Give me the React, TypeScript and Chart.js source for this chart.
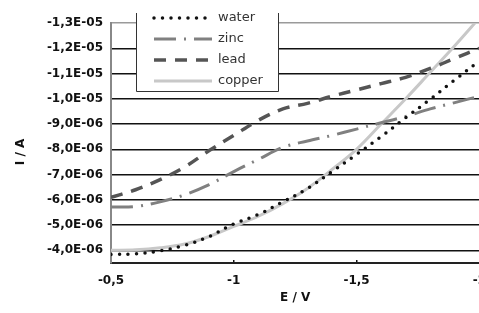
import { useEffect, useRef } from "react";
import { Chart, registerables } from "chart.js";

Chart.register(...registerables);

// Potential E / V
const potentials = [-0.5, -0.6, -0.7, -0.8, -0.9, -1.0, -1.1, -1.2, -1.3, -1.4, -1.5, -1.6, -1.7, -1.8, -1.9, -2.0];
// Current I, in units of 1E-06 A
const water = [-3.84, -3.86, -3.98, -4.2, -4.55, -5.05, -5.42, -5.92, -6.45, -7.12, -7.8, -8.5, -9.25, -9.98, -10.75, -11.5];
const zinc = [-5.72, -5.74, -5.92, -6.2, -6.6, -7.12, -7.6, -8.08, -8.33, -8.55, -8.8, -9.05, -9.3, -9.6, -9.85, -10.1];
const lead = [-6.1, -6.4, -6.8, -7.3, -7.95, -8.55, -9.15, -9.6, -9.82, -10.1, -10.35, -10.6, -10.85, -11.2, -11.6, -12.0];
const copper = [-4.0, -4.02, -4.1, -4.25, -4.55, -4.95, -5.35, -5.85, -6.45, -7.2, -8.0, -9.0, -10.0, -11.05, -12.1, -13.2];

const seriesNames = ["water", "zinc", "lead", "copper"];
const xTickValues = [-0.5, -1, -1.5, -2];
const yTickValues = [-13, -12, -11, -10, -9, -8, -7, -6, -5, -4];
const yMin = -13;
const yMax = -3.5;

function sci(v: number): string {
  const a = v * 1e-6;
  const [m, e] = a.toExponential(1).split("e");
  const sign = e.startsWith("-") ? "-" : "+";
  const d = e.replace(/^[-+]/, "").padStart(2, "0");
  return m.replace(".", ",") + "E" + sign + d;
}

const overlay = {
  id: "overlay",
  afterDraw(chart: any) {
    const ctx = chart.ctx as CanvasRenderingContext2D;
    ctx.save();
    const L = 136, R = 278, T = 13, B = 91;
    ctx.fillStyle = "#fff";
    ctx.fillRect(L, 0, R - L, B);
    ctx.strokeStyle = "#333";
    ctx.lineWidth = 1;
    ctx.beginPath();
    ctx.moveTo(L + 0.5, T);
    ctx.lineTo(L + 0.5, B + 0.5);
    ctx.lineTo(R + 0.5, B + 0.5);
    ctx.lineTo(R + 0.5, T);
    ctx.stroke();
    chart.data.datasets.forEach((ds: any, i: number) => {
      const y = 18 + i * 21;
      ctx.strokeStyle = ds.borderColor;
      ctx.lineWidth = ds.borderWidth;
      ctx.setLineDash(ds.borderDash || []);
      ctx.lineCap = ds.borderCapStyle || "butt";
      ctx.beginPath();
      ctx.moveTo(154, y);
      ctx.lineTo(212, y);
      ctx.stroke();
      ctx.setLineDash([]);
      ctx.fillStyle = "#333";
      ctx.font = '13px "DejaVu Sans"';
      ctx.textBaseline = "middle";
      ctx.textAlign = "left";
      ctx.fillText(ds.label, 218, y);
    });
    ctx.translate(21, 152);
    ctx.rotate(-Math.PI / 2);
    ctx.font = 'bold 12px "DejaVu Sans"';
    ctx.textAlign = "center";
    ctx.textBaseline = "middle";
    ctx.fillStyle = "#111";
    ctx.fillText("I / A", 0, 0);
    ctx.restore();
  },
};

export default function App() {
  const ref = useRef<HTMLCanvasElement | null>(null);
  useEffect(() => {
    if (!ref.current) return;
    const pts = (arr: number[]) => arr.map((y, i) => ({ x: potentials[i], y }));
    const tickFont = { family: '"DejaVu Sans"', size: 12, weight: "bold" as const };
    const chart = new Chart(ref.current, {
      type: "line",
      data: {
        datasets: [
          {
            label: seriesNames[0], data: pts(water), borderColor: "#111", borderWidth: 3.5,
            borderDash: [0, 8.5], borderCapStyle: "round", pointRadius: 0, tension: 0.35, fill: false,
          },
          {
            label: seriesNames[1], data: pts(zinc), borderColor: "#808080", borderWidth: 3,
            borderDash: [22, 8, 2, 8], pointRadius: 0, tension: 0.35, fill: false,
          },
          {
            label: seriesNames[2], data: pts(lead), borderColor: "#555", borderWidth: 3.5,
            borderDash: [12, 9], pointRadius: 0, tension: 0.35, fill: false,
          },
          {
            label: seriesNames[3], data: pts(copper), borderColor: "#c8c8c8", borderWidth: 3,
            borderDash: [], pointRadius: 0, tension: 0.35, fill: false,
          },
        ] as any,
      },
      options: {
        animation: false,
        responsive: false,
        devicePixelRatio: 1,
        layout: { padding: { left: 0, top: 23, right: 15, bottom: 0 } },
        plugins: { legend: { display: false }, tooltip: { enabled: false } },
        scales: {
          x: {
            type: "linear",
            min: -2,
            max: -0.5,
            reverse: true,
            afterFit: (s: any) => { s.height = 50; },
            afterBuildTicks: (s: any) => { s.ticks = xTickValues.map((v) => ({ value: v })); },
            ticks: {
              stepSize: 0.5, autoSkip: false, maxRotation: 0, padding: 14,
              color: "#111", font: tickFont,
              callback: (v: any) => String(v).replace(".", ","),
            },
            grid: { drawOnChartArea: false, drawTicks: true, tickLength: -3, color: "#111", lineWidth: 1.5 },
            border: { display: true, color: "#222", width: 2 },
            title: { display: true, text: "E / V", color: "#111", font: tickFont, padding: { top: 0, bottom: 8 } },
          },
          y: {
            type: "linear",
            min: yMin,
            max: yMax,
            reverse: true,
            afterFit: (s: any) => { s.width = 111; },
            afterBuildTicks: (s: any) => { s.ticks = yTickValues.map((v) => ({ value: v })); },
            ticks: {
              stepSize: 1, padding: 8, color: "#111", font: tickFont, autoSkip: false,
              callback: (v: any) => sci(Math.round(v)),
            },
            grid: {
              drawTicks: false,
              lineWidth: 1.5,
              color: (c: any) => (c.tick && Math.abs(c.tick.value - yMin) < 1e-6 ? "#9a9a9a" : "#111"),
            },
            border: { display: true, color: "#888", width: 2 },
          },
        },
      } as any,
      plugins: [overlay],
    });
    return () => chart.destroy();
  }, []);
  return (
    <div style={{ position: "fixed", left: 0, top: 0, width: 479, height: 313, overflow: "hidden", background: "#fff" }}>
      <canvas ref={ref} width={500} height={313} style={{ display: "block", width: 500, height: 313 }} />
    </div>
  );
}
